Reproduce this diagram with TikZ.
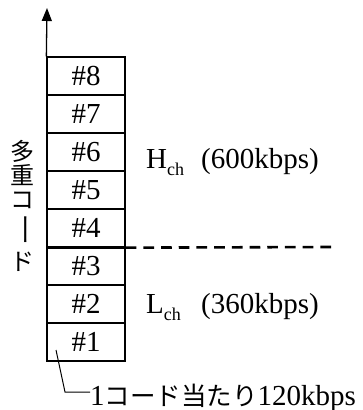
\documentclass[tikz,border=0pt]{standalone}
\usepackage{fontspec}
\setmainfont{Liberation Serif}
\newfontfamily\cjk{Noto Sans CJK JP}
\usetikzlibrary{arrows.meta}
\begin{document}
\begin{tikzpicture}[x=1pt,y=-1pt,
  codebox/.style={draw,line width=1.3pt,minimum width=78pt,minimum height=38pt,inner sep=0pt,
    font=\fontsize{29}{30}\selectfont,text height=19.6pt,text depth=0pt},
  lbl/.style={inner sep=0pt,anchor=base west,font=\fontsize{29}{30}\selectfont},
  vch/.style={inner sep=0pt,font=\cjk\fontsize{24}{24}\selectfont}]
\useasboundingbox (0,0) rectangle (362,410);
\foreach \i in {1,...,8}{
  \node[codebox] (c\i) at (86,{361-38*\i+19}) {\#\i};
}
\coordinate (top) at (47,8);
\draw[line width=1.3pt,-{Triangle[length=13pt,width=10pt]}] (c8.north west) -- (top);
% dividing line
\coordinate (dend) at (335,247);
\draw[line width=2.6pt] (c4.south west) -- (c4.south east);
\draw[line width=2.6pt,dash pattern=on 10.7pt off 7pt] (c4.south east) -- (dend);
% labels
\node[lbl] (hch) at (146,168) {H\raisebox{-7pt}{\fontsize{18}{18}\selectfont ch}};
\node[lbl] (hrate) at (201,168) {(600kbps)};
\node[lbl] (lch) at (146,313) {L\raisebox{-7pt}{\fontsize{18}{18}\selectfont ch}};
\node[lbl] (lrate) at (201,313) {(360kbps)};
% vertical japanese label
\node[vch] (v1) at (22,151) {多};
\node[vch] (v2) at (22,175) {重};
\node[vch] (v3) at (22,200) {コ};
\node[vch,rotate=-90] (v4) at (22,230) {\scalebox{1.35}[1]{ー}};
\node[vch] (v5) at (22,262) {ド};
% bottom note
\node[lbl] (note) at (90,405) {1{\cjk\fontsize{25.5}{26}\selectfont コード当たり}120kbps};
\coordinate (lead) at (56,350);
\draw[line width=1pt] (lead) -- (65,392) -- (note.west |- 0,392);
\end{tikzpicture}
\end{document}
